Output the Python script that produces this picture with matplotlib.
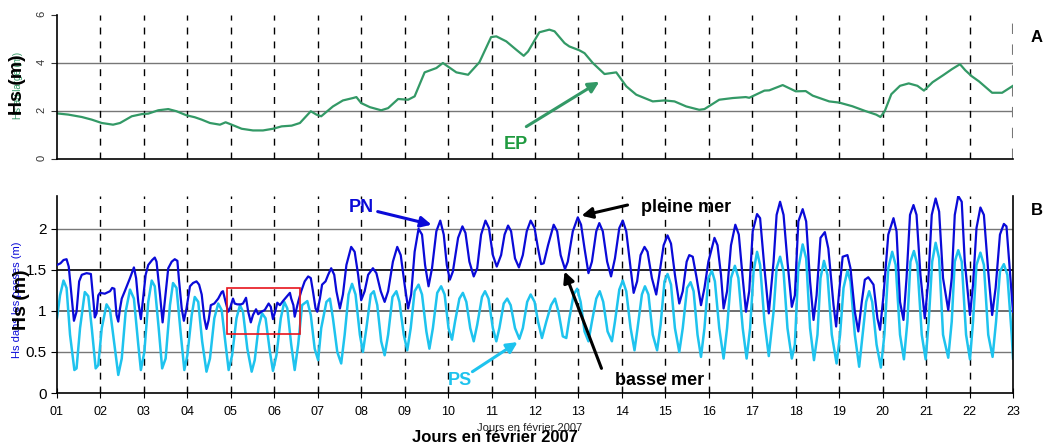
import matplotlib
matplotlib.use("Agg")
import matplotlib.pyplot as plt
from matplotlib.patches import Rectangle

plt.rcParams['font.family'] = ['Liberation Sans', 'DejaVu Sans']

# --- data (days in February 2007, Hs in metres) ---
ep_day = [1.0, 1.26, 1.57, 1.80, 2.03, 2.29, 2.45, 2.72, 2.95, 3.10, 3.33, 3.56, 3.75,
          3.98, 4.17, 4.33, 4.52, 4.75, 4.88, 5.02, 5.25, 5.51, 5.74, 5.97, 6.17, 6.40,
          6.59, 6.84, 6.97, 7.08, 7.35, 7.58, 7.81, 7.89, 8.00, 8.20, 8.46, 8.62, 8.85,
          9.08, 9.23, 9.46, 9.73, 9.88, 10.19, 10.46, 10.72, 10.99, 11.11, 11.34, 11.57,
          11.74, 11.84, 12.10, 12.33, 12.45, 12.68, 12.79, 13.02, 13.14, 13.33, 13.60,
          13.87, 14.10, 14.33, 14.71, 14.98, 15.21, 15.48, 15.78, 15.90, 16.24, 16.55,
          16.85, 16.93, 17.28, 17.39, 17.70, 18.00, 18.23, 18.39, 18.77, 19.0, 19.3,
          19.6, 19.85, 19.95, 20.05, 20.2, 20.4, 20.6, 20.8, 20.95, 21.15, 21.4, 21.6,
          21.78, 21.9, 22.05, 22.22, 22.52, 22.75, 23.0]
ep_hs = [1.90, 1.85, 1.75, 1.64, 1.50, 1.43, 1.50, 1.78, 1.87, 1.89, 2.03, 2.08, 1.99,
         1.82, 1.74, 1.64, 1.50, 1.43, 1.53, 1.43, 1.26, 1.19, 1.19, 1.26, 1.36, 1.39,
         1.50, 1.99, 1.85, 1.78, 2.19, 2.44, 2.54, 2.58, 2.33, 2.16, 2.03, 2.12, 2.50,
         2.47, 2.61, 3.61, 3.79, 4.00, 3.61, 3.51, 4.03, 5.08, 5.11, 4.90, 4.55,
         4.30, 4.48, 5.28, 5.39, 5.32, 4.83, 4.69, 4.53, 4.41, 4.00, 3.54,
         3.61, 3.03, 2.68, 2.40, 2.44, 2.40, 2.19, 2.05, 2.08, 2.47, 2.54,
         2.58, 2.55, 2.85, 2.86, 3.08, 2.82, 2.83, 2.64, 2.40, 2.35, 2.20,
         2.00, 1.85, 1.75, 2.00, 2.70, 3.05, 3.15, 3.05, 2.85, 3.20, 3.50, 3.75,
         3.95, 3.70, 3.45, 3.23, 2.76, 2.76, 3.05]

pn_day = [1.0, 1.08, 1.15, 1.22, 1.27, 1.34, 1.39, 1.45, 1.51, 1.57, 1.68, 1.78, 1.84,
          1.87, 1.91, 1.95, 1.99, 2.10, 2.22, 2.27, 2.32, 2.37, 2.41, 2.45, 2.49, 2.56,
          2.68, 2.77, 2.82, 2.87, 2.93, 2.98, 3.04, 3.10, 3.19, 3.25, 3.29, 3.37, 3.43,
          3.48, 3.56, 3.64, 3.71, 3.77, 3.81, 3.87, 3.92, 3.98, 4.06, 4.13, 4.21, 4.27,
          4.33, 4.39, 4.44, 4.49, 4.54, 4.62, 4.71, 4.79, 4.82, 4.88, 4.94, 4.98, 5.05,
          5.09, 5.15, 5.23, 5.28, 5.35, 5.40, 5.46, 5.51, 5.58, 5.63, 5.70, 5.78, 5.87,
          5.92, 5.97, 6.03, 6.07, 6.13, 6.20, 6.28, 6.36, 6.39, 6.44,
          6.47, 6.55, 6.62, 6.70, 6.78, 6.84, 6.89, 6.95, 6.99, 7.05, 7.10, 7.18, 7.24,
          7.31, 7.38, 7.43, 7.51, 7.58, 7.66, 7.77, 7.85, 7.93, 8.00, 8.08, 8.16, 8.27,
          8.35, 8.45, 8.54, 8.62, 8.73, 8.83, 8.91, 9.00, 9.08, 9.15, 9.23, 9.32, 9.40,
          9.47, 9.55, 9.63, 9.73, 9.82, 9.90, 9.97, 10.04, 10.11, 10.23, 10.33, 10.40,
          10.49, 10.59, 10.67, 10.76, 10.86, 10.94, 11.03, 11.12, 11.22, 11.30, 11.38,
          11.45, 11.54, 11.63, 11.72, 11.81, 11.90,
          11.99, 12.07, 12.14, 12.20, 12.30, 12.43, 12.51, 12.59, 12.69, 12.755, 12.87,
          12.985, 13.06, 13.14, 13.23, 13.31, 13.41, 13.48, 13.56, 13.66, 13.75, 13.84,
          13.94, 14.02, 14.10, 14.20, 14.27, 14.35, 14.43, 14.52, 14.59, 14.69, 14.79,
          14.86, 14.96, 15.05, 15.13, 15.22, 15.32, 15.40, 15.49, 15.55, 15.63, 15.72,
          15.82, 15.90, 15.99, 16.13, 16.20, 16.28, 16.34, 16.42, 16.51, 16.61, 16.69,
          16.78, 16.855, 16.93, 17.01, 17.11, 17.18, 17.28, 17.38,
          17.49, 17.56, 17.64, 17.72, 17.81, 17.91, 17.98, 18.06, 18.16, 18.24, 18.33,
          18.41, 18.48, 18.57, 18.67, 18.75, 18.87, 18.93, 19.00, 19.08, 19.19, 19.26,
          19.36, 19.44, 19.52, 19.59, 19.67, 19.79, 19.88, 19.94, 20.02, 20.13, 20.25,
          20.32, 20.40, 20.48, 20.55, 20.63, 20.71, 20.78, 20.87, 20.97, 21.05, 21.13,
          21.22, 21.30, 21.39, 21.51, 21.59, 21.66, 21.74, 21.82, 21.89, 22.01, 22.08,
          22.16, 22.25, 22.33, 22.43, 22.52, 22.60, 22.70, 22.79, 22.85, 22.93, 23.00]
pn_hs = [1.56, 1.58, 1.62, 1.63, 1.54, 1.15, 0.88, 0.99, 1.36, 1.44, 1.46, 1.45, 1.11,
         0.92, 0.97, 1.19, 1.22, 1.21, 1.24, 1.28, 1.27, 0.95, 0.87, 1.03, 1.15, 1.24,
         1.40, 1.53, 1.40, 1.11, 0.90, 1.15, 1.44, 1.56, 1.62, 1.65, 1.60, 1.20, 0.86,
         1.11, 1.52, 1.60, 1.63, 1.61, 1.36, 1.03, 0.88, 1.03, 1.30, 1.34, 1.36, 1.32,
         1.20, 0.91, 0.78, 0.89, 1.07, 1.09, 1.15, 1.23, 1.24, 1.11, 0.99, 1.03, 1.15,
         1.09, 1.08, 1.08, 1.09, 1.16, 0.99, 0.86, 0.95, 1.02, 0.96, 0.99, 1.01, 1.09,
         1.05, 0.90, 1.01, 1.10, 1.07, 1.12, 1.17, 1.22, 1.15, 1.07,
         0.93, 1.11, 1.24, 1.36, 1.42, 1.40, 1.24, 1.03, 0.99, 1.15, 1.32, 1.36, 1.44,
         1.52, 1.44, 1.24, 1.03, 1.20, 1.56, 1.78, 1.72, 1.44, 1.13, 1.24, 1.44, 1.52,
         1.46, 1.24, 1.11, 1.24, 1.60, 1.78, 1.68, 1.32, 1.03, 1.20, 1.72, 2.00, 1.93,
         1.56, 1.30, 1.52, 1.97, 2.10, 1.93, 1.56, 1.38, 1.48, 1.89, 2.03, 1.95,
         1.60, 1.42, 1.52, 1.93, 2.10, 2.01, 1.68, 1.54, 1.68, 1.93, 2.04,
         1.97, 1.64, 1.53, 1.68, 1.97, 2.10,
         2.01, 1.76, 1.57, 1.58, 1.80, 2.05, 1.97, 1.68, 1.51, 1.60, 1.97,
         2.14, 2.05, 1.76, 1.46, 1.60, 1.97, 2.07, 1.97, 1.60, 1.42, 1.64,
         2.01, 2.10, 1.97, 1.52, 1.22, 1.36, 1.68, 1.78, 1.72, 1.40, 1.20,
         1.44, 1.80, 1.92, 1.82, 1.44, 1.09, 1.24, 1.60, 1.68, 1.66, 1.40,
         1.07, 1.28, 1.60, 1.89, 1.80, 1.44, 1.03, 1.24, 1.80, 2.05, 1.93,
         1.40, 0.99, 1.24, 1.97, 2.18, 2.13, 1.52, 0.97,
         1.60, 2.17, 2.33, 2.17, 1.60, 1.05, 1.19, 2.09, 2.24, 2.09, 1.36,
         0.89, 1.19, 1.89, 1.96, 1.76, 1.07, 0.81, 1.24, 1.66, 1.68, 1.52,
         0.99, 0.75, 1.11, 1.38, 1.41, 1.32, 0.91, 0.77, 1.19, 1.93, 2.13,
         1.97, 1.11, 0.89, 1.40, 2.17, 2.29, 2.17, 1.44, 0.91, 1.36, 2.17,
         2.37, 2.21, 1.40, 1.01, 1.40, 2.17, 2.40, 2.33, 1.60, 0.95, 1.32,
         2.01, 2.26, 2.17, 1.48, 0.95, 1.28, 1.93, 2.06, 2.03, 1.48, 0.99]

ps_day = [1.0, 1.07, 1.15, 1.22, 1.30, 1.40, 1.45, 1.53, 1.64, 1.72, 1.80, 1.89, 1.95,
          2.03, 2.14, 2.22, 2.32, 2.41, 2.49, 2.58, 2.68, 2.77, 2.87, 2.93, 3.01, 3.10,
          3.18, 3.25, 3.34, 3.42, 3.50, 3.60, 3.67, 3.75, 3.85, 3.93, 4.00, 4.10, 4.17,
          4.25, 4.34, 4.44, 4.52, 4.62, 4.71, 4.79, 4.88, 4.95, 5.03, 5.13, 5.21, 5.28,
          5.38, 5.48, 5.55, 5.64, 5.72, 5.80, 5.90, 5.97, 6.05, 6.15, 6.23, 6.30, 6.39,
          6.47, 6.55, 6.64, 6.76, 6.84, 6.93, 7.01, 7.08, 7.20, 7.28, 7.35, 7.45, 7.54,
          7.62, 7.71, 7.79, 7.87, 7.97, 8.04, 8.12, 8.22, 8.29, 8.37, 8.46, 8.54, 8.62,
          8.72, 8.81, 8.88, 8.98, 9.06, 9.14, 9.23, 9.32, 9.40, 9.50, 9.57, 9.65, 9.75,
          9.84, 9.92, 10.01, 10.09, 10.16, 10.26, 10.34, 10.42, 10.51, 10.59, 10.67,
          10.78, 10.85, 10.93, 11.03, 11.11, 11.18, 11.28, 11.36, 11.44, 11.54, 11.64,
          11.72, 11.82, 11.90,
          11.99, 12.07, 12.16, 12.26, 12.37, 12.46, 12.54, 12.64, 12.72, 12.79, 12.89,
          12.97, 13.05, 13.14, 13.23, 13.31, 13.41, 13.49, 13.57, 13.67, 13.77, 13.84,
          13.94, 14.02, 14.10, 14.20, 14.29, 14.36, 14.46, 14.53, 14.61, 14.71, 14.81,
          14.89, 14.98, 15.05, 15.13, 15.22, 15.32, 15.40, 15.50, 15.58, 15.65, 15.74,
          15.82, 15.90, 15.99, 16.07, 16.14, 16.24, 16.34, 16.42, 16.51, 16.60, 16.68,
          16.78, 16.87, 16.95, 17.03, 17.11, 17.18, 17.28, 17.38,
          17.49, 17.56, 17.64, 17.72, 17.81, 17.91, 17.98, 18.06, 18.16, 18.24, 18.33,
          18.42, 18.50, 18.57, 18.65, 18.73, 18.83, 18.94, 19.02, 19.10, 19.19, 19.26,
          19.36, 19.46, 19.54, 19.62, 19.69, 19.76, 19.86, 19.96, 20.04, 20.13, 20.22,
          20.30, 20.40, 20.49, 20.57, 20.64, 20.72, 20.80, 20.90, 20.99, 21.06, 21.14,
          21.22, 21.30, 21.39, 21.51, 21.59, 21.66, 21.74, 21.82, 21.92, 22.01, 22.08,
          22.16, 22.25, 22.33, 22.43, 22.53, 22.61, 22.70, 22.79, 22.87, 22.97, 23.00]
ps_hs = [0.91, 1.19, 1.37, 1.28, 0.71, 0.28, 0.30, 0.79, 1.23, 1.18, 0.79, 0.30, 0.34,
         0.79, 1.08, 1.01, 0.59, 0.22, 0.42, 0.99, 1.26, 1.15, 0.59, 0.28, 0.50, 1.11,
         1.37, 1.30, 0.79, 0.30, 0.42, 1.07, 1.34, 1.28, 0.71, 0.28, 0.46, 0.95, 1.17,
         1.11, 0.63, 0.26, 0.42, 0.91, 1.09, 1.01, 0.59, 0.28, 0.46, 0.91, 1.07, 0.99,
         0.54, 0.26, 0.40, 0.81, 0.97, 0.91, 0.50, 0.27, 0.46, 0.91, 1.11, 1.03, 0.59,
         0.28, 0.59, 1.07, 1.12, 0.95, 0.54, 0.40, 0.79, 1.11, 1.15, 0.91, 0.50, 0.36,
         0.71, 1.20, 1.33, 1.20, 0.71, 0.50, 0.79, 1.20, 1.24, 1.07, 0.63, 0.46, 0.71,
         1.17, 1.24, 1.11, 0.71, 0.52, 0.79, 1.24, 1.32, 1.20, 0.75, 0.54, 0.79, 1.22,
         1.30, 1.20, 0.79, 0.65, 0.87, 1.15, 1.22, 1.11, 0.79, 0.63, 0.83,
         1.17, 1.24, 1.15, 0.79, 0.63, 0.79, 1.09, 1.15, 1.07, 0.79, 0.66,
         0.79, 1.11, 1.20,
         1.11, 0.87, 0.67, 0.87, 1.07, 1.15, 0.99, 0.69, 0.67, 0.91, 1.20,
         1.27, 1.11, 0.75, 0.63, 0.87, 1.15, 1.24, 1.11, 0.75, 0.63, 0.87,
         1.26, 1.37, 1.24, 0.79, 0.52, 0.79, 1.20, 1.30, 1.20, 0.71, 0.52,
         0.83, 1.36, 1.45, 1.32, 0.79, 0.50, 0.79, 1.28, 1.35, 1.24, 0.71,
         0.44, 0.79, 1.40, 1.49, 1.36, 0.79, 0.42, 0.79, 1.40, 1.55, 1.40,
         0.79, 0.42, 0.79, 1.48, 1.72, 1.56, 0.87, 0.45,
         0.99, 1.52, 1.66, 1.48, 0.79, 0.42, 0.59, 1.52, 1.81, 1.64, 0.79,
         0.40, 0.71, 1.40, 1.61, 1.44, 0.71, 0.36, 0.71, 1.28, 1.49, 1.36,
         0.71, 0.32, 0.71, 1.11, 1.24, 1.11, 0.59, 0.31, 0.71, 1.52, 1.72,
         1.56, 0.71, 0.41, 0.87, 1.60, 1.73, 1.56, 0.71, 0.41, 0.87, 1.60,
         1.83, 1.64, 0.71, 0.43, 0.87, 1.60, 1.74, 1.60, 0.71, 0.41, 0.87,
         1.56, 1.71, 1.56, 0.71, 0.44, 0.87, 1.48, 1.57, 1.44, 0.71, 0.42]

day_ticks = list(range(1, 24))
day_labels = ['%02d' % d for d in day_ticks]

fig = plt.figure(figsize=(10.45, 4.48), dpi=100)
ax1 = fig.add_axes([57 / 1045, 1 - 159 / 448, (1013 - 57) / 1045, 144 / 448])
ax2 = fig.add_axes([57 / 1045, 1 - 393 / 448, (1013 - 57) / 1045, 197 / 448])

green = '#339966'
dblue = '#0a0ad8'
cyan = '#1ec3ee'


def arrow(ax, tail, tip, color):
    ax.annotate('', xy=tip, xytext=tail,
                arrowprops=dict(arrowstyle='-|>', color=color, lw=2.2,
                                mutation_scale=16, shrinkA=0, shrinkB=0))


# ---- top panel (EP) ----
for y in [2, 4]:
    ax1.axhline(y, color='#777777', lw=1, zorder=1)
for d in range(2, 23):
    ax1.axvline(d, color='black', lw=1, ls=(0, (5, 5)), zorder=1)
ax1.axvline(23, color='#777777', lw=1.5, ls=(0, (5, 5)), zorder=1)
ax1.plot(ep_day, ep_hs, color=green, lw=1.6, zorder=2)
ax1.set_xlim(1, 23)
ax1.set_ylim(0, 6)
ax1.set_yticks([0, 2, 4, 6])
ax1.set_xticks(day_ticks)
ax1.set_xticklabels([])
ax1.tick_params(axis='y', labelsize=8, labelrotation=90, length=4, colors='#333333')
ax1.tick_params(axis='x', length=0)
for s in ['top', 'right']:
    ax1.spines[s].set_visible(False)
ax1.spines['bottom'].set_linewidth(1.2)
ax1.spines['left'].set_linewidth(1.2)

arrow(ax1, (11.80, 1.35), (13.48, 3.22), green)
ax1.text(11.55, 0.62, 'EP', color='#1f9a3f', fontsize=13, fontweight='bold',
         ha='center', va='center')

fig.text(18 / 1045, 1 - 85 / 448, 'Hs au large (m)', color=green, fontsize=7,
         rotation=90, ha='center', va='center')
fig.text(18 / 1045, 1 - 85 / 448, 'Hs (m)', color='black', fontsize=14,
         fontweight='bold', rotation=90, ha='center', va='center')
fig.text(1037 / 1045, 1 - 38 / 448, 'A', fontsize=12, fontweight='bold',
         ha='center', va='center')

# ---- bottom panel (PN / PS) ----
ax2.axhline(0.5, color='#777777', lw=1, zorder=1)
ax2.axhline(1.0, color='#555555', lw=1.2, zorder=1)
ax2.axhline(1.5, color='black', lw=1.2, zorder=1)
ax2.axhline(2.0, color='#777777', lw=1, zorder=1)
for d in range(2, 23):
    ax2.axvline(d, color='black', lw=1, ls=(0, (5, 5)), zorder=1)
ax2.plot(ps_day, ps_hs, color=cyan, lw=1.8, zorder=2)
ax2.plot(pn_day, pn_hs, color=dblue, lw=1.6, zorder=3)
ax2.add_patch(Rectangle((4.915, 0.72), 6.60 - 4.915, 1.277 - 0.72, fill=False,
                        edgecolor='#e8141c', lw=1.2, zorder=4))
ax2.set_xlim(1, 23)
ax2.set_ylim(0, 2.4)
ax2.set_yticks([0, 0.5, 1, 1.5, 2])
ax2.set_yticklabels(['0', '0.5', '1', '1.5', '2'])
ax2.set_xticks(day_ticks)
ax2.set_xticklabels(day_labels)
ax2.tick_params(axis='y', labelsize=11, length=4)
ax2.tick_params(axis='x', labelsize=9, direction='inout', length=7, pad=6)
ax2.spines['top'].set_visible(False)
for s in ['bottom', 'left', 'right']:
    ax2.spines[s].set_linewidth(1.2)

arrow(ax2, (8.38, 2.21), (9.62, 2.05), dblue)
ax2.text(8.0, 2.26, 'PN', color=dblue, fontsize=13, fontweight='bold',
         ha='center', va='center')
arrow(ax2, (10.56, 0.26), (11.60, 0.62), cyan)
ax2.text(10.26, 0.15, 'PS', color=cyan, fontsize=13, fontweight='bold',
         ha='center', va='center')
arrow(ax2, (14.13, 2.29), (13.07, 2.16), 'black')
ax2.text(15.48, 2.26, 'pleine mer', color='black', fontsize=13, fontweight='bold',
         ha='center', va='center')
arrow(ax2, (13.53, 0.30), (12.68, 1.48), 'black')
ax2.text(14.86, 0.15, 'basse mer', color='black', fontsize=13, fontweight='bold',
         ha='center', va='center')

fig.text(17 / 1045, 1 - 300 / 448, 'Hs dans les passes (m)', color='#0a0ad8',
         fontsize=8, rotation=90, ha='center', va='center')
fig.text(22 / 1045, 1 - 300 / 448, 'Hs (m)', color='black', fontsize=14,
         fontweight='bold', rotation=90, ha='center', va='center')
fig.text(1037 / 1045, 1 - 210 / 448, 'B', fontsize=12, fontweight='bold',
         ha='center', va='center')

fig.text(530 / 1045, 1 - 428 / 448, 'Jours en février 2007', fontsize=8,
         ha='center', va='center', color='#222222')
fig.text(495 / 1045, 1 - 437 / 448, 'Jours en février 2007', fontsize=12,
         fontweight='bold', ha='center', va='center')

fig.savefig('out.png', dpi=100)
